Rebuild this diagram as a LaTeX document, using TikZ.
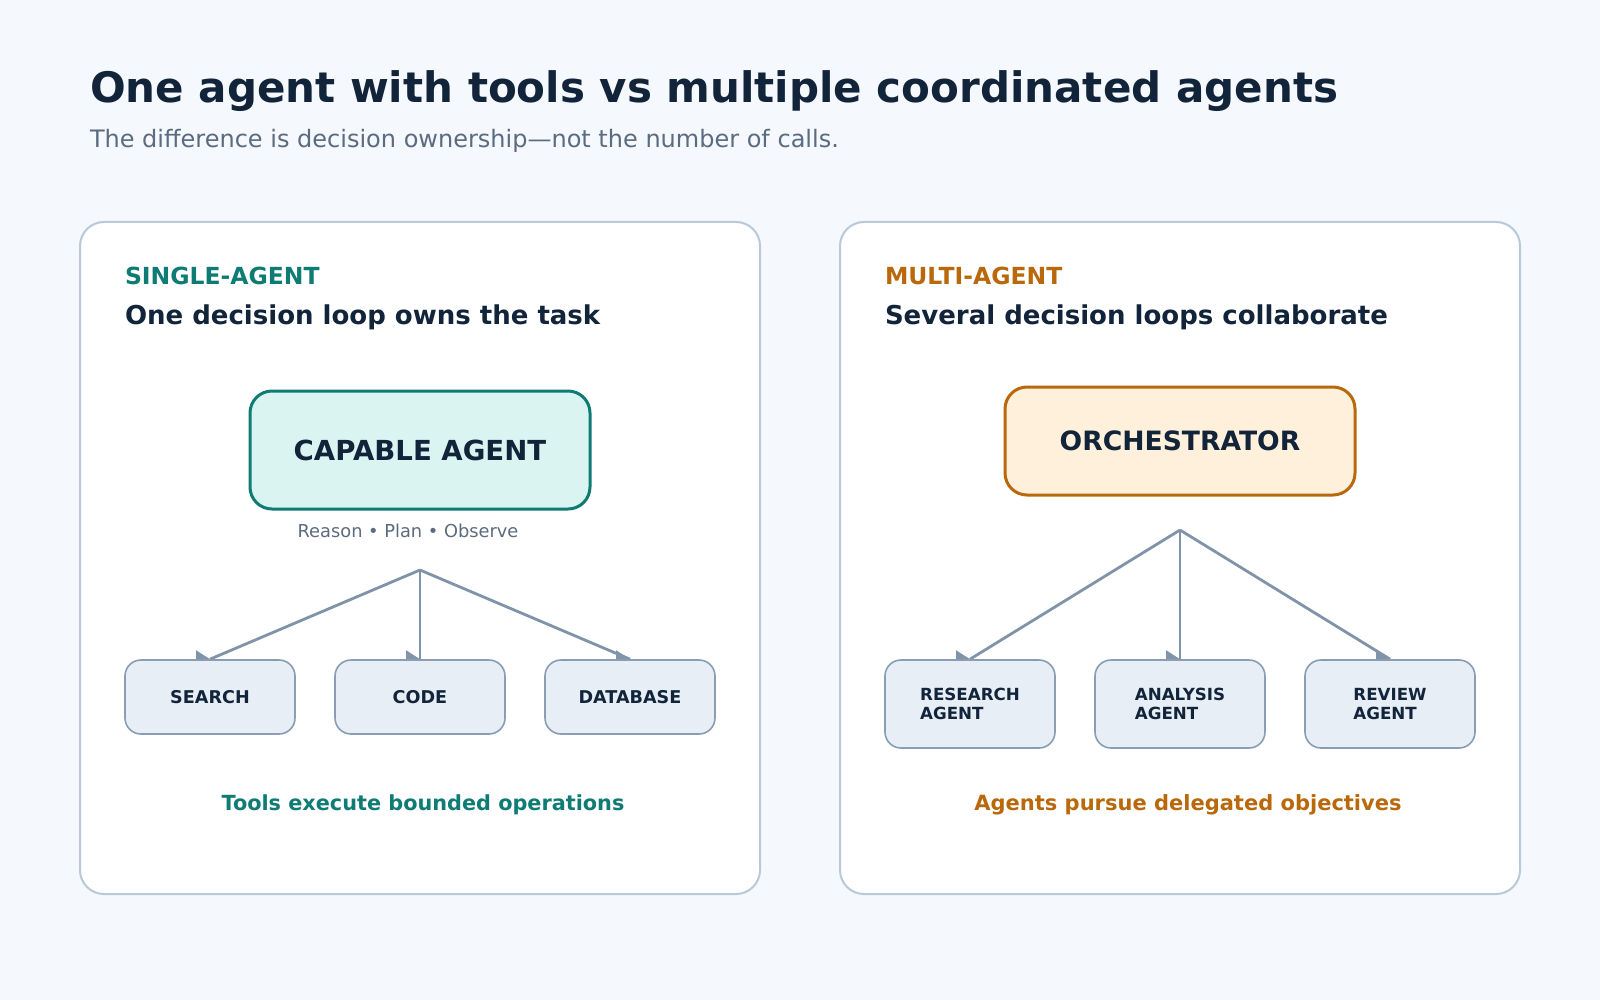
\documentclass[tikz,border=0pt]{standalone}
\usepackage{fontspec}
\setmainfont{DejaVu Sans}
\definecolor{bg}{HTML}{F5F8FC}
\definecolor{panelline}{HTML}{B9C9D9}
\definecolor{navy}{HTML}{12243A}
\definecolor{slate}{HTML}{5B6B80}
\definecolor{teal}{HTML}{0E7C74}
\definecolor{tealfill}{HTML}{DAF4F2}
\definecolor{amber}{HTML}{B9690B}
\definecolor{amberfill}{HTML}{FFF0DB}
\definecolor{conn}{HTML}{8093A8}
\definecolor{boxfill}{HTML}{E7EEF6}
\definecolor{boxline}{HTML}{8A9DB3}
\pgfdeclarelayer{bottom}
\pgfdeclarelayer{links}
\pgfsetlayers{bottom,links,main}
\tikzset{
  panel/.style={draw=panelline, fill=white, line width=1pt, rounded corners=12pt},
  txt/.style={anchor=base west, inner sep=0pt, outer sep=0pt},
  mainbox/.style={rounded corners=11pt, line width=1.5pt, inner sep=0pt, text=navy},
  smallbox/.style={draw=boxline, fill=boxfill, line width=0.8pt, rounded corners=8pt,
    minimum width=85pt, inner sep=0pt, text=navy},
  toolbox/.style={smallbox, minimum height=37pt, font=\fontsize{8.8}{10}\selectfont\bfseries},
  agentbox/.style={smallbox, minimum height=44pt, align=left, font=\fontsize{8.35}{9.75}\selectfont\bfseries},
  connline/.style={draw=conn, line width=1.4pt},
  tiphead/.style={fill=conn},
}
\begin{document}
\begin{tikzpicture}[x=0.5pt,y=-0.5pt]
\begin{pgfonlayer}{bottom}
\useasboundingbox (0,0) rectangle (1600,1000);
\fill[bg] (0,0) rectangle (1600,1000);
% panels
\draw[panel] (80,222) rectangle (760,894);
\draw[panel] (840,222) rectangle (1520,894);
\end{pgfonlayer}

% title
\node[txt, text=navy] (title) at (90,103) {\fontsize{21}{25}\selectfont\bfseries One agent with tools vs multiple coordinated agents};
\node[txt, text=slate] (subtitle) at (90,148) {\fontsize{12}{14}\selectfont The difference is decision ownership—not the number of calls.};

% panel texts
\node[txt, text=teal] (lbl1) at (125,285) {\fontsize{11.75}{14}\selectfont\bfseries SINGLE-AGENT};
\node[txt, text=navy] (hd1) at (125,324) {\fontsize{13}{16}\selectfont\bfseries One decision loop owns the task};
\node[txt, text=amber] (lbl2) at (885,285) {\fontsize{11.75}{14}\selectfont\bfseries MULTI-AGENT};
\node[txt, text=navy] (hd2) at (885,324) {\fontsize{13}{16}\selectfont\bfseries Several decision loops collaborate};

% hubs
\coordinate (hubL) at (420,570);
\coordinate (hubR) at (1180,530);

% main boxes
\node[mainbox, draw=teal, fill=tealfill, minimum width=170pt, minimum height=59pt] (capable) at (420,450)
  {\fontsize{13.8}{16}\selectfont\bfseries CAPABLE AGENT};
\node[txt, anchor=base, text=slate] (rpo) at (408,537) {\fontsize{8.9}{11}\selectfont Reason • Plan • Observe};
\node[mainbox, draw=amber, fill=amberfill, minimum width=175pt, minimum height=54pt] (orch) at (1180,441)
  {\fontsize{13.3}{16}\selectfont\bfseries ORCHESTRATOR};

% small boxes
\node[toolbox] (search) at (210,697) {SEARCH};
\node[toolbox] (code) at (420,697) {CODE};
\node[toolbox] (db) at (630,697) {DATABASE};
\node[agentbox] (research) at (970,704) {RESEARCH\\AGENT};
\node[agentbox] (analysis) at (1180,704) {ANALYSIS\\AGENT};
\node[agentbox] (review) at (1390,704) {REVIEW\\AGENT};

% connectors behind boxes
\begin{pgfonlayer}{links}
\foreach \t in {search,code,db}{
  \draw[connline] (hubL) -- (\t.north);
  \fill[tiphead] (\t.north) -- ++(-14,0) -- ++(0,-9) -- cycle;
}
\foreach \t in {research,analysis,review}{
  \draw[connline] (hubR) -- (\t.north);
  \fill[tiphead] (\t.north) -- ++(-14,0) -- ++(0,-9) -- cycle;
}
\end{pgfonlayer}

% bottom labels
\node[txt, anchor=base, text=teal] (foot1) at (423,810) {\fontsize{10.4}{12}\selectfont\bfseries Tools execute bounded operations};
\node[txt, anchor=base, text=amber] (foot2) at (1188,810) {\fontsize{10.5}{12}\selectfont\bfseries Agents pursue delegated objectives};
\end{tikzpicture}
\end{document}
